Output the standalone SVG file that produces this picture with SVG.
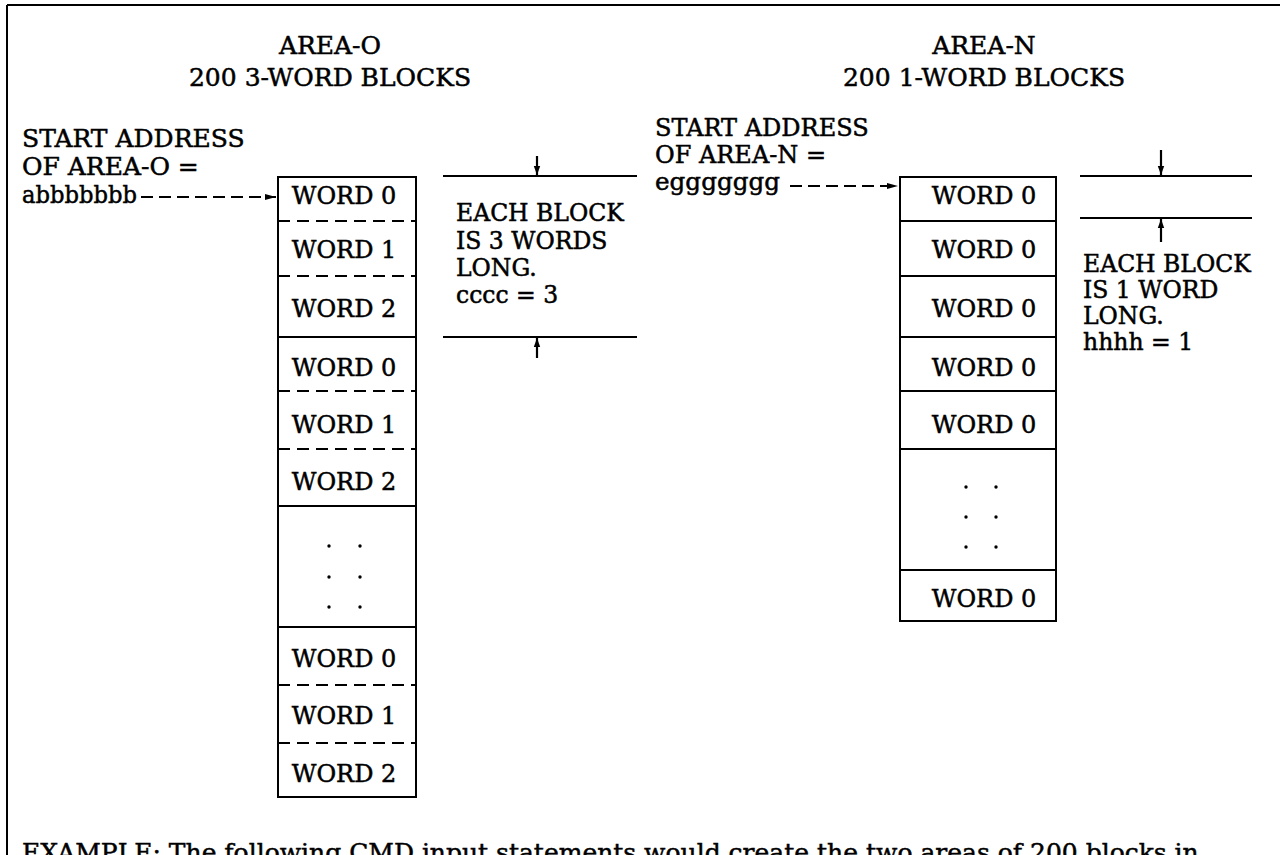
<svg xmlns="http://www.w3.org/2000/svg" width="1280" height="855" viewBox="0 0 1280 855">
<defs>
<style>
.t{font-family:"DejaVu Serif","Liberation Serif",serif;font-size:25px;fill:#000;stroke:#000;stroke-width:0.5}
.w{font-family:"DejaVu Serif","Liberation Serif",serif;font-size:24px;fill:#000;stroke:#000;stroke-width:0.5;text-anchor:middle}
.a{font-family:"DejaVu Serif","Liberation Serif",serif;font-size:23.5px;fill:#000;stroke:#000;stroke-width:0.5}
.s{font-size:24px}
.c{text-anchor:middle}
.box{fill:none;stroke:#000;stroke-width:2}
.sol{stroke:#000;stroke-width:2}
.dash{stroke:#000;stroke-width:2;stroke-dasharray:12 7}
.ptr{stroke:#000;stroke-width:2;stroke-dasharray:12 6;fill:none}
.tick{stroke:#000;stroke-width:2.2}
</style>
<marker id="ah" markerUnits="userSpaceOnUse" markerWidth="12" markerHeight="8" refX="11" refY="4" orient="auto">
<path d="M0,1 L11,4 L0,7 Z" fill="#000"/>
</marker>
<marker id="ah2" markerUnits="userSpaceOnUse" markerWidth="10" markerHeight="8" refX="9" refY="4" orient="auto">
<path d="M0,0.8 L9,4 L0,7.2 Z" fill="#000"/>
</marker>
</defs>
<rect width="1280" height="855" fill="#fff"/>
<g id="frame">
<line x1="7" y1="5" x2="1280" y2="5" class="sol"/>
<line x1="7" y1="5" x2="7" y2="855" class="sol"/>
</g>
<g id="titles">
<text class="t c" x="330" y="54">AREA-O</text>
<text class="t c" x="330" y="86">200 3-WORD BLOCKS</text>
<text class="t c" x="984" y="54">AREA-N</text>
<text class="t c" x="984" y="86">200 1-WORD BLOCKS</text>
</g>
<g id="start-o">
<text class="t" x="22" y="147">START ADDRESS</text>
<text class="t" x="22" y="175">OF AREA-O =</text>
<text class="t" x="22" y="203" textLength="115" lengthAdjust="spacingAndGlyphs">abbbbbbb</text>
</g>
<g id="start-n">
<text class="t s" x="655" y="136">START ADDRESS</text>
<text class="t s" x="655" y="163">OF AREA-N =</text>
<text class="t s" x="655" y="190" textLength="125" lengthAdjust="spacingAndGlyphs">eggggggg</text>
</g>
<g id="area-o">
<rect class="box" x="278" y="177" width="138" height="620"/>
<line class="dash" x1="278" y1="221" x2="416" y2="221"/>
<line class="dash" x1="278" y1="276" x2="416" y2="276"/>
<line class="sol" x1="278" y1="337" x2="416" y2="337"/>
<line class="dash" x1="278" y1="391" x2="416" y2="391"/>
<line class="dash" x1="278" y1="449" x2="416" y2="449"/>
<line class="sol" x1="278" y1="506" x2="416" y2="506"/>
<line class="sol" x1="278" y1="627" x2="416" y2="627"/>
<line class="dash" x1="278" y1="685" x2="416" y2="685"/>
<line class="dash" x1="278" y1="743" x2="416" y2="743"/>
<text class="w" x="344" y="204">WORD 0</text>
<text class="w" x="344" y="258">WORD 1</text>
<text class="w" x="344" y="317">WORD 2</text>
<text class="w" x="344" y="376">WORD 0</text>
<text class="w" x="344" y="433">WORD 1</text>
<text class="w" x="344" y="490">WORD 2</text>
<text class="w" x="344" y="667">WORD 0</text>
<text class="w" x="344" y="724">WORD 1</text>
<text class="w" x="344" y="782">WORD 2</text>
<g fill="#000">
<circle cx="329" cy="546" r="1.7"/><circle cx="360" cy="546" r="1.7"/>
<circle cx="329" cy="577" r="1.7"/><circle cx="360" cy="577" r="1.7"/>
<circle cx="329" cy="607" r="1.7"/><circle cx="360" cy="607" r="1.7"/>
</g>
</g>
<g id="area-n">
<rect class="box" x="900" y="177" width="156" height="444"/>
<line class="sol" x1="900" y1="221" x2="1056" y2="221"/>
<line class="sol" x1="900" y1="276" x2="1056" y2="276"/>
<line class="sol" x1="900" y1="337" x2="1056" y2="337"/>
<line class="sol" x1="900" y1="391" x2="1056" y2="391"/>
<line class="sol" x1="900" y1="449" x2="1056" y2="449"/>
<line class="sol" x1="900" y1="570" x2="1056" y2="570"/>
<text class="w" x="984" y="204">WORD 0</text>
<text class="w" x="984" y="258">WORD 0</text>
<text class="w" x="984" y="317">WORD 0</text>
<text class="w" x="984" y="376">WORD 0</text>
<text class="w" x="984" y="433">WORD 0</text>
<text class="w" x="984" y="607">WORD 0</text>
<g fill="#000">
<circle cx="966" cy="487" r="1.7"/><circle cx="996" cy="487" r="1.7"/>
<circle cx="966" cy="517" r="1.7"/><circle cx="996" cy="517" r="1.7"/>
<circle cx="966" cy="547" r="1.7"/><circle cx="996" cy="547" r="1.7"/>
</g>
</g>
<g id="note-o">
<line class="sol" x1="443" y1="176" x2="637" y2="176"/>
<line class="sol" x1="443" y1="337" x2="637" y2="337"/>
<text class="a" x="456" y="221">EACH BLOCK</text>
<text class="a" x="456" y="249">IS 3 WORDS</text>
<text class="a" x="456" y="276">LONG.</text>
<text class="a" x="456" y="303">cccc = 3</text>
</g>
<g id="note-n">
<line class="sol" x1="1080" y1="176" x2="1252" y2="176"/>
<line class="sol" x1="1080" y1="218" x2="1252" y2="218"/>
<text class="a" x="1083" y="272">EACH BLOCK</text>
<text class="a" x="1083" y="298">IS 1 WORD</text>
<text class="a" x="1083" y="324">LONG.</text>
<text class="a" x="1083" y="350">hhhh = 1</text>
</g>
<g id="connectors">
<line class="ptr" x1="141" y1="197" x2="276" y2="197" marker-end="url(#ah)"/>
<line class="ptr" x1="790" y1="186" x2="898" y2="186" marker-end="url(#ah)"/>
<line class="tick" x1="537" y1="156" x2="537" y2="175" marker-end="url(#ah2)"/>
<line class="tick" x1="537" y1="358" x2="537" y2="338" marker-end="url(#ah2)"/>
<line class="tick" x1="1161" y1="150" x2="1161" y2="175" marker-end="url(#ah2)"/>
<line class="tick" x1="1161" y1="242" x2="1161" y2="219" marker-end="url(#ah2)"/>
</g>
<g id="footer">
<text class="t" x="22" y="861">EXAMPLE:  The following CMD input statements would create the two areas of 200 blocks in</text>
</g>
</svg>
